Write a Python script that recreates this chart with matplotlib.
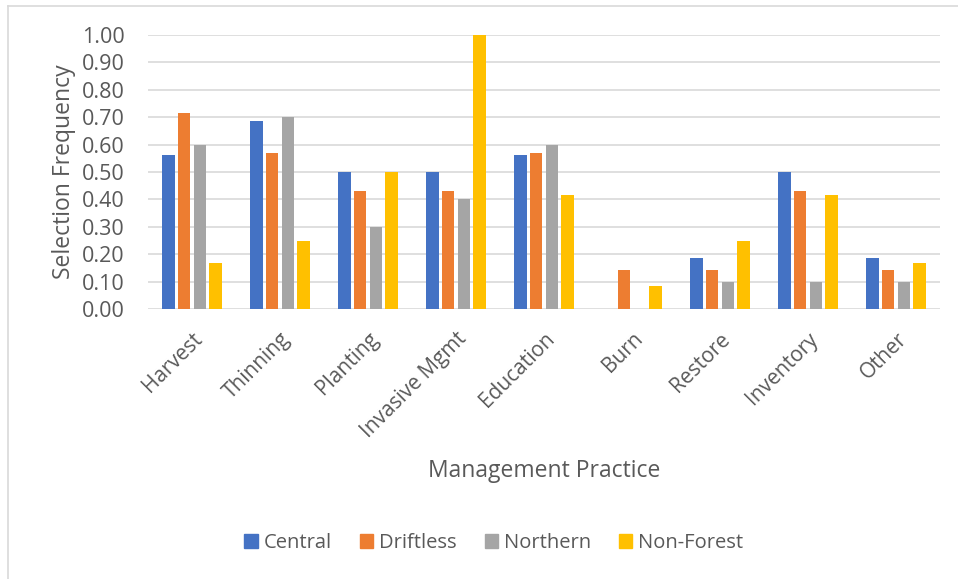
import matplotlib
matplotlib.use("Agg")
import matplotlib.pyplot as plt
import numpy as np
from matplotlib.lines import Line2D

categories = ["Harvest", "Thinning", "Planting", "Invasive Mgmt", "Education",
              "Burn", "Restore", "Inventory", "Other"]
central = [0.5625, 0.6875, 0.50, 0.50, 0.5625, 0.0, 0.1875, 0.50, 0.1875]
driftless = [0.714, 0.571, 0.429, 0.429, 0.571, 0.143, 0.143, 0.429, 0.143]
northern = [0.60, 0.70, 0.30, 0.40, 0.60, 0.0, 0.10, 0.10, 0.10]
nonforest = [0.167, 0.25, 0.50, 1.00, 0.417, 0.083, 0.25, 0.417, 0.167]
series_names = ["Central", "Driftless", "Northern", "Non-Forest"]
colors = ["#4472C4", "#ED7D31", "#A5A5A5", "#FFC000"]
yticks = [0.0, 0.1, 0.2, 0.3, 0.4, 0.5, 0.6, 0.7, 0.8, 0.9, 1.0]

plt.rcParams['font.family'] = ['Open Sans', 'DejaVu Sans']
txt = "#595959"

fig = plt.figure(figsize=(9.58, 5.79), dpi=100)
ax = fig.add_axes([148/958, 1-309/579, (940-148)/958, (309-35)/579])

x = np.arange(len(categories))
width = 0.144
step = 0.18
all_series = [central, driftless, northern, nonforest]
for i, (vals, c, n) in enumerate(zip(all_series, colors, series_names)):
    ax.bar(x + (i - 1.5) * step, vals, width=width, color=c, label=n, zorder=3)

ax.set_xlim(-0.5, len(categories) - 0.5)
ax.set_ylim(0, 1.0)
ax.set_yticks(yticks)
ax.set_yticklabels([f"{v:.2f}" for v in yticks], fontsize=15.5, color=txt)
ax.yaxis.grid(True, color="#D9D9D9", linewidth=1.2, zorder=0)
ax.set_axisbelow(True)
for s in ax.spines.values():
    s.set_visible(False)
ax.tick_params(axis='both', length=0)
ax.tick_params(axis='y', pad=17)
ax.set_xticks(x)
ax.set_xticklabels(categories, rotation=45, ha='right', rotation_mode='anchor',
                   fontsize=15, color=txt)
ax.tick_params(axis='x', pad=14)
ax.set_ylabel("Selection Frequency", fontsize=16.5, color=txt, labelpad=4)
fig.text(544/958, 1-471/579, "Management Practice", ha='center', va='center',
         fontsize=16.5, color=txt)

handles = [plt.Rectangle((0, 0), 1, 1, color=c) for c in colors]
fig.legend(handles, series_names, loc='center', bbox_to_anchor=(494/958, 1-543/579),
           ncol=4, frameon=False, fontsize=14.5, handlelength=0.65, handleheight=0.65,
           handletextpad=0.3, columnspacing=1.4, labelcolor=txt)

# chart area border
fig.add_artist(Line2D([8/958, 1], [1-6/579, 1-6/579], color="#D9D9D9", lw=1.2, transform=fig.transFigure))
fig.add_artist(Line2D([8/958, 8/958], [0, 1-6/579], color="#D9D9D9", lw=1.2, transform=fig.transFigure))

fig.savefig("out.png", dpi=100)
